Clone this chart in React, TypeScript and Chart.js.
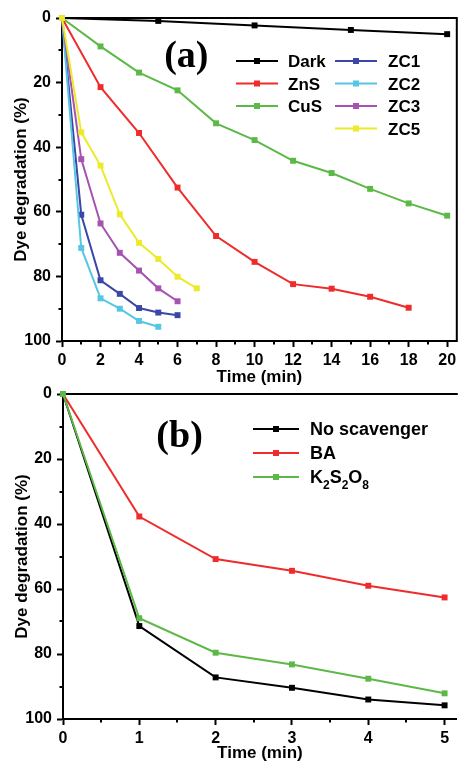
import React, { useEffect, useRef } from "react";
import { Chart, registerables } from "chart.js";

Chart.register(...registerables);

// ---------- Data: panel (a) ----------
const timeDark = [0, 5, 10, 15, 20];
const darkValues = [0, 0.9, 2.3, 3.7, 5.0];
const timeZnS = [0, 2, 4, 6, 8, 10, 12, 14, 16, 18];
const znsValues = [0, 21.4, 35.6, 52.5, 67.5, 75.5, 82.4, 83.8, 86.3, 89.7];
const timeCuS = [0, 2, 4, 6, 8, 10, 12, 14, 16, 18, 20];
const cusValues = [0, 8.8, 16.9, 22.4, 32.6, 37.8, 44.2, 48.0, 52.9, 57.4, 61.2];
const timeZC = [0, 1, 2, 3, 4, 5, 6, 7];
const zc1Values = [0, 60.9, 81.2, 85.4, 89.8, 91.2, 92.0];
const zc2Values = [0, 71.2, 86.8, 90.0, 93.8, 95.6];
const zc3Values = [0, 43.7, 63.6, 72.7, 78.2, 83.7, 87.7];
const zc5Values = [0, 35.4, 45.7, 60.8, 69.6, 74.6, 80.1, 83.7];
const labelsA = ["Dark", "ZnS", "CuS", "ZC1", "ZC2", "ZC3", "ZC5"];

// ---------- Data: panel (b) ----------
const timeB = [0, 1, 2, 3, 4, 5];
const noScavengerValues = [0, 71.4, 87.2, 90.4, 94.0, 95.8];
const baValues = [0, 37.7, 50.8, 54.4, 59.0, 62.6];
const k2s2o8Values = [0, 69.0, 79.6, 83.2, 87.6, 92.1];
const labelsB = ["No scavenger", "BA", "K₂S₂O₈"];

// ---------- Ticks ----------
const yTicks = [0, 20, 40, 60, 80, 100];
const yMinor = [10, 30, 50, 70, 90];
const xMinorA = [1, 3, 5, 7, 9, 11, 13, 15, 17, 19];
const xMinorB = [0.5, 1.5, 2.5, 3.5, 4.5];

const FONT = "'Liberation Sans', Arial, Helvetica, sans-serif";
const SERIF = "'Liberation Serif', 'Times New Roman', serif";

const colorsA = ["#000000", "#ef2b2b", "#5cb947", "#3a47a6", "#57c6e3", "#a552b0", "#ecea2a"];
const colorsB = ["#000000", "#ef2b2b", "#5cb947"];

const pts = (xs: number[], ys: number[]) => ys.map((y, i) => ({ x: xs[i], y }));

const ds = (label: string, data: any[], color: string, order: number) => ({
  label,
  data,
  borderColor: color,
  backgroundColor: color,
  pointBackgroundColor: color,
  pointBorderColor: color,
  pointBorderWidth: 0,
  pointStyle: "rect",
  pointRadius: 4.2,
  borderWidth: 2,
  tension: 0,
  clip: false,
  order,
});

const SUBS: Record<string, string> = { "₀": "0", "₁": "1", "₂": "2", "₃": "3", "₄": "4", "₅": "5", "₆": "6", "₇": "7", "₈": "8", "₉": "9" };

const minorTicksPlugin = {
  id: "minorTicks",
  afterDraw(chart: any, _a: any, opts: any) {
    const ctx = chart.ctx;
    const area = chart.chartArea;
    const xs = chart.scales.x;
    const ys = chart.scales.y;
    ctx.save();
    ctx.strokeStyle = "#000";
    ctx.lineWidth = 2;
    ctx.beginPath();
    (opts.x || []).forEach((v: number) => {
      const px = Math.round(xs.getPixelForValue(v));
      ctx.moveTo(px, area.bottom);
      ctx.lineTo(px, area.bottom + opts.len);
    });
    (opts.y || []).forEach((v: number) => {
      const py = Math.round(ys.getPixelForValue(v));
      ctx.moveTo(area.left, py);
      ctx.lineTo(area.left - opts.len, py);
    });
    ctx.stroke();
    ctx.restore();
  },
};

const framePlugin = {
  id: "frame",
  beforeDatasetsDraw(chart: any, _a: any, opts: any) {
    const ctx = chart.ctx;
    const { left, right, top, bottom } = chart.chartArea;
    ctx.save();
    ctx.strokeStyle = "#000";
    ctx.lineWidth = 2;
    ctx.beginPath();
    ctx.moveTo(left - 1, top);
    ctx.lineTo(right + 1, top);
    if (opts.right) {
      ctx.moveTo(right, top);
      ctx.lineTo(right, bottom + 1);
    }
    ctx.stroke();
    ctx.restore();
  },
};

const panelLabelPlugin = {
  id: "panelLabel",
  afterDraw(chart: any, _a: any, opts: any) {
    const ctx = chart.ctx;
    const { left, right, top, bottom } = chart.chartArea;
    ctx.save();
    ctx.fillStyle = "#000";
    ctx.font = `bold ${opts.size}px ${SERIF}`;
    ctx.textAlign = "center";
    ctx.textBaseline = "middle";
    ctx.fillText(opts.text, left + (right - left) * opts.fx, top + (bottom - top) * opts.fy);
    ctx.restore();
  },
};

const legendPlugin = {
  id: "customLegend",
  afterDraw(chart: any, _a: any, opts: any) {
    const ctx = chart.ctx;
    ctx.save();
    chart.data.datasets.forEach((d: any, i: number) => {
      const it = opts.items[i];
      if (!it) return;
      const col = opts.columns[it.col];
      const y = opts.rowY + it.row * opts.rowStep;
      ctx.strokeStyle = d.borderColor;
      ctx.lineWidth = 2;
      ctx.beginPath();
      ctx.moveTo(col.lineX, y);
      ctx.lineTo(col.lineX + opts.lineLen, y);
      ctx.stroke();
      ctx.fillStyle = d.borderColor;
      const s = 6;
      const cx = col.lineX + opts.lineLen / 2;
      ctx.fillRect(cx - s / 2, y - s / 2, s, s);
      // text (with subscripts)
      ctx.fillStyle = "#000";
      ctx.textAlign = "left";
      ctx.textBaseline = "alphabetic";
      const size = opts.size;
      const base = y + size * 0.36;
      let x = col.textX;
      for (const ch of d.label as string) {
        if (SUBS[ch]) {
          ctx.font = `bold ${Math.round(size * 0.65)}px ${FONT}`;
          ctx.fillText(SUBS[ch], x, base + size * 0.3);
          x += ctx.measureText(SUBS[ch]).width;
        } else {
          ctx.font = `bold ${size}px ${FONT}`;
          ctx.fillText(ch, x, base);
          x += ctx.measureText(ch).width;
        }
      }
    });
    ctx.restore();
  },
};

function makeOptions(p: {
  xMax: number;
  xStep: number;
  yWidth: number;
  xHeight: number;
  padding: any;
  yTitlePad: number;
  xTitlePad: number;
  xMinor: number[];
  rightFrame: boolean;
  panel: any;
  legend: any;
}) {
  const tickFont = { family: FONT, size: 16, weight: "bold" as const };
  const titleFont = { family: FONT, size: 17, weight: "bold" as const };
  const grid = {
    display: true,
    drawOnChartArea: false,
    drawTicks: true,
    tickLength: 6,
    tickWidth: 2,
    tickColor: "#000",
    color: "#000",
  };
  const border = { display: true, width: 2, color: "#000" };
  return {
    responsive: false,
    animation: false as const,
    events: [] as any[],
    layout: { padding: p.padding },
    scales: {
      x: {
        type: "linear" as const,
        min: 0,
        max: p.xMax,
        grid,
        border,
        ticks: {
          stepSize: p.xStep,
          includeBounds: false,
          color: "#000",
          font: tickFont,
          padding: 4,
          maxRotation: 0,
        },
        title: {
          display: true,
          text: "Time (min)",
          color: "#000",
          font: titleFont,
          padding: { top: 0, bottom: p.xTitlePad },
        },
        afterFit: (s: any) => {
          s.height = p.xHeight;
          s.paddingLeft = 0;
          s.paddingRight = 0;
        },
      },
      y: {
        type: "linear" as const,
        min: 0,
        max: 100,
        reverse: true,
        grid,
        border,
        afterBuildTicks: (s: any) => {
          s.ticks = yTicks.map((v) => ({ value: v }));
        },
        ticks: {
          stepSize: 20,
          color: "#000",
          font: tickFont,
          padding: 5,
        },
        title: {
          display: true,
          text: "Dye degradation (%)",
          color: "#000",
          font: titleFont,
          padding: { top: p.yTitlePad, bottom: 0 },
        },
        afterFit: (s: any) => {
          s.width = p.yWidth;
          s.paddingTop = 0;
          s.paddingBottom = 0;
        },
      },
    },
    plugins: {
      legend: { display: false },
      tooltip: { enabled: false },
      minorTicks: { x: p.xMinor, y: yMinor, len: 3.5 },
      frame: { right: p.rightFrame },
      panelLabel: p.panel,
      customLegend: p.legend,
    },
  };
}

export default function App() {
  const refA = useRef<HTMLCanvasElement | null>(null);
  const refB = useRef<HTMLCanvasElement | null>(null);

  useEffect(() => {
    const plugins = [minorTicksPlugin, framePlugin, panelLabelPlugin, legendPlugin];

    const chartA = new Chart(refA.current as HTMLCanvasElement, {
      type: "line",
      data: {
        datasets: [
          ds(labelsA[0], pts(timeDark, darkValues), colorsA[0], 7),
          ds(labelsA[1], pts(timeZnS, znsValues), colorsA[1], 6),
          ds(labelsA[2], pts(timeCuS, cusValues), colorsA[2], 5),
          ds(labelsA[3], pts(timeZC, zc1Values), colorsA[3], 4),
          ds(labelsA[4], pts(timeZC, zc2Values), colorsA[4], 3),
          ds(labelsA[5], pts(timeZC, zc3Values), colorsA[5], 2),
          ds(labelsA[6], pts(timeZC, zc5Values), colorsA[6], 1),
        ],
      },
      options: makeOptions({
        xMax: 20.5,
        xStep: 2,
        yWidth: 62,
        xHeight: 49,
        padding: { top: 18, right: 2, left: 0, bottom: 0 },
        yTitlePad: 11,
        xTitlePad: 2,
        xMinor: xMinorA,
        rightFrame: true,
        panel: { text: "(a)", size: 38, fx: 0.315, fy: 0.122 },
        legend: {
          size: 17,
          rowY: 61,
          rowStep: 22.5,
          lineLen: 42,
          columns: [
            { lineX: 236, textX: 288 },
            { lineX: 335, textX: 388 },
          ],
          items: [
            { col: 0, row: 0 },
            { col: 0, row: 1 },
            { col: 0, row: 2 },
            { col: 1, row: 0 },
            { col: 1, row: 1 },
            { col: 1, row: 2 },
            { col: 1, row: 3 },
          ],
        },
      }) as any,
      plugins,
    });

    const chartB = new Chart(refB.current as HTMLCanvasElement, {
      type: "line",
      data: {
        datasets: [
          ds(labelsB[0], pts(timeB, noScavengerValues), colorsB[0], 3),
          ds(labelsB[1], pts(timeB, baValues), colorsB[1], 2),
          ds(labelsB[2], pts(timeB, k2s2o8Values), colorsB[2], 1),
        ],
      },
      options: makeOptions({
        xMax: 5.16,
        xStep: 1,
        yWidth: 63,
        xHeight: 42,
        padding: { top: 24, right: 0, left: 0, bottom: 0 },
        yTitlePad: 12,
        xTitlePad: -3,
        xMinor: xMinorB,
        rightFrame: false,
        panel: { text: "(b)", size: 38, fx: 0.296, fy: 0.132 },
        legend: {
          size: 18,
          rowY: 59,
          rowStep: 24,
          lineLen: 46,
          columns: [{ lineX: 253, textX: 310 }],
          items: [
            { col: 0, row: 0 },
            { col: 0, row: 1 },
            { col: 0, row: 2 },
          ],
        },
      }) as any,
      plugins,
    });

    return () => {
      chartA.destroy();
      chartB.destroy();
    };
  }, []);

  return (
    <div style={{ position: "absolute", left: 0, top: 0, width: 461, height: 761, background: "#fff" }}>
      <canvas ref={refA} width={461} height={390} style={{ position: "absolute", left: 0, top: 0, width: 461, height: 390 }} />
      <canvas ref={refB} width={461} height={391} style={{ position: "absolute", left: 0, top: 370, width: 461, height: 391 }} />
    </div>
  );
}
